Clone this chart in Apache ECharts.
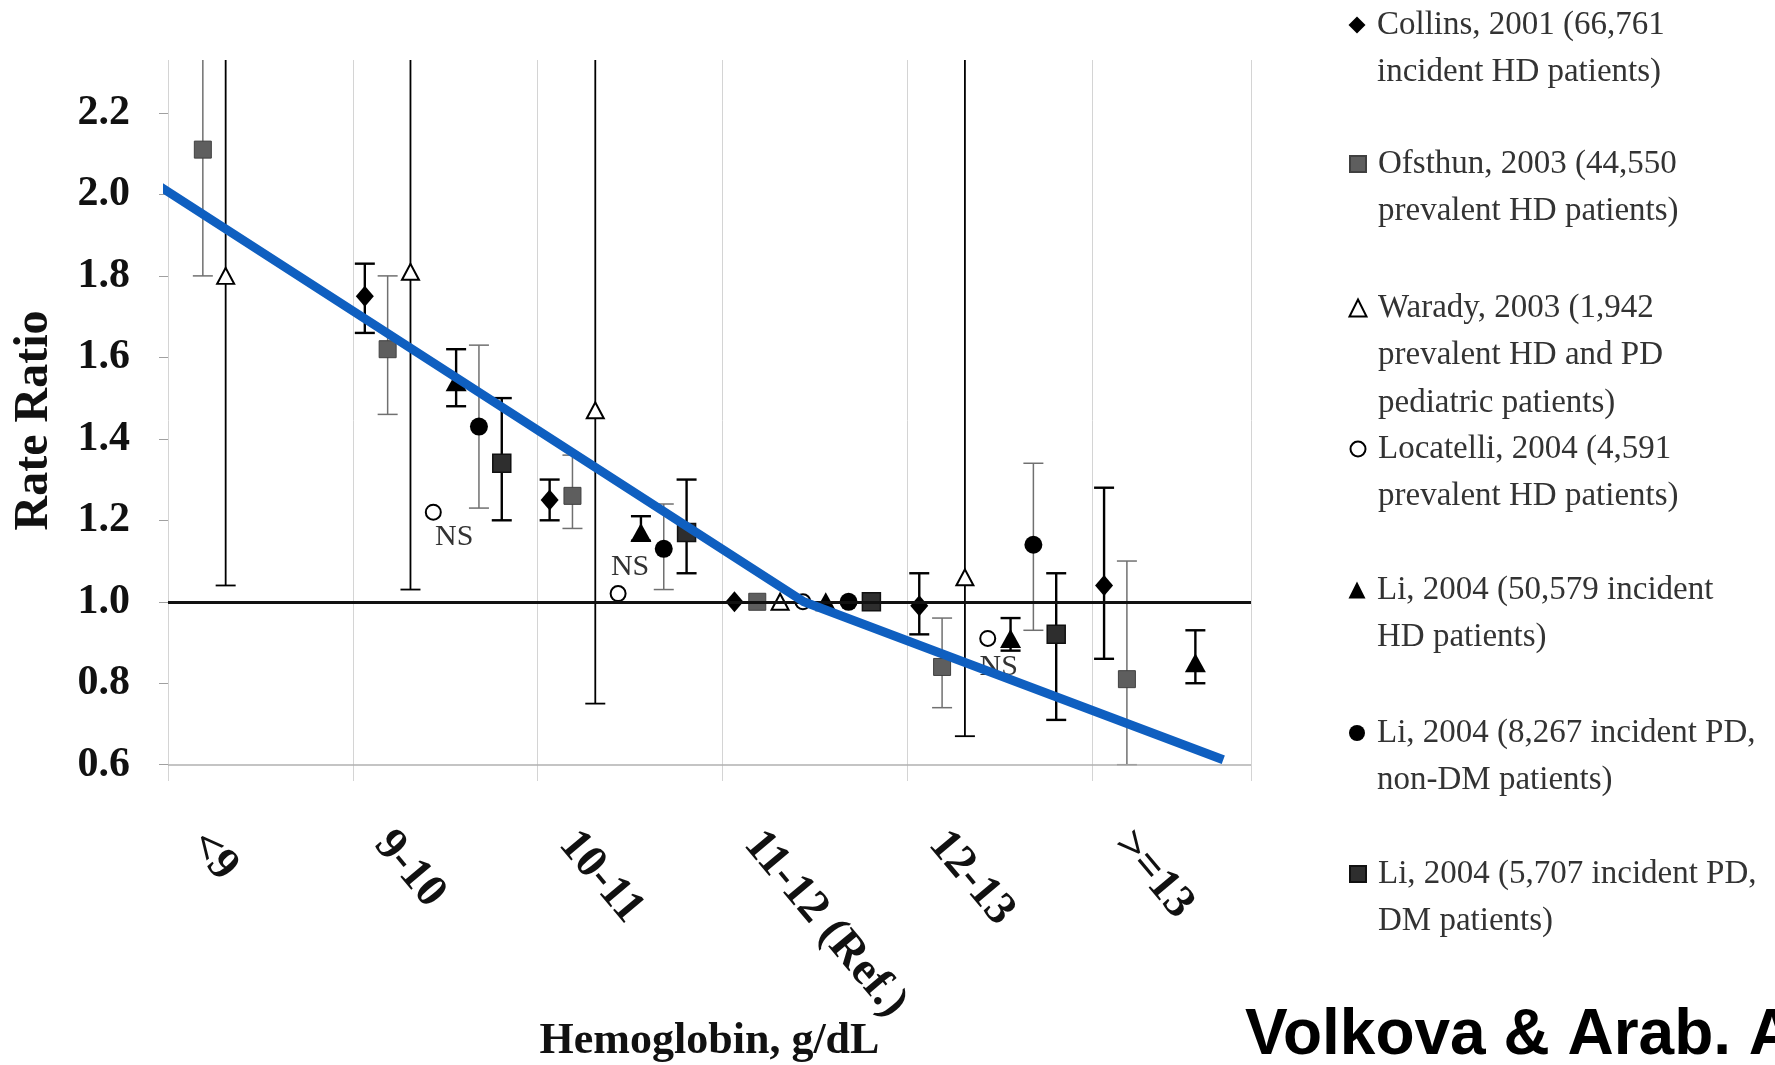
<!DOCTYPE html>
<html>
<head>
<meta charset="utf-8">
<title>Rate ratio by hemoglobin</title>
<script src="https://cdn.jsdelivr.net/npm/echarts@6/dist/echarts.min.js"></script>
<style>
  html, body { margin: 0; padding: 0; background: #ffffff; }
  #chart { width: 1775px; height: 1065px; }
</style>
</head>
<body>
<div id="chart"></div>
<script>
// Hemoglobin bands (g/dL) along the x axis
const hbCategories = ['<9', '9-10', '10-11', '11-12 (Ref.)', '12-13', '>=13'];

// Labelled rate-ratio ticks on the y axis
const yTickValues = [0.6, 0.8, 1.0, 1.2, 1.4, 1.6, 1.8, 2.0, 2.2];

// Studies, in plotting order inside each band
const studyNames = [
  'Collins, 2001 (66,761 incident HD patients)',
  'Ofsthun, 2003 (44,550 prevalent HD patients)',
  'Warady, 2003 (1,942 prevalent HD and PD pediatric patients)',
  'Locatelli, 2004 (4,591 prevalent HD patients)',
  'Li, 2004 (50,579 incident HD patients)',
  'Li, 2004 (8,267 incident PD, non-DM patients)',
  'Li, 2004 (5,707 incident PD, DM patients)'
];
const legendLines = [
  ['Collins, 2001 (66,761', 'incident HD patients)'],
  ['Ofsthun, 2003 (44,550', 'prevalent HD patients)'],
  ['Warady, 2003 (1,942', 'prevalent HD and PD', 'pediatric patients)'],
  ['Locatelli, 2004 (4,591', 'prevalent HD patients)'],
  ['Li, 2004 (50,579 incident', 'HD patients)'],
  ['Li, 2004 (8,267 incident PD,', 'non-DM patients)'],
  ['Li, 2004 (5,707 incident PD,', 'DM patients)']
];

// Rate ratios per band (null = not reported), with interval limits.
// OPEN marks an upper limit that runs past the top of the axis.
const OPEN = 'open';

const collinsRR   = [null, 1.75, 1.25, 1.00, 0.99, 1.04];
const collinsLow  = [null, 1.66, 1.20, null, 0.92, 0.86];
const collinsHigh = [null, 1.83, 1.30, null, 1.07, 1.28];

const ofsthunRR   = [2.11, 1.62, 1.26, 1.00, 0.84, 0.81];
const ofsthunLow  = [1.80, 1.46, 1.18, null, 0.74, 0.60];
const ofsthunHigh = [OPEN, 1.80, 1.36, null, 0.96, 1.10];

const waradyRR    = [1.80, 1.81, 1.47, 1.00, 1.06, null];
const waradyLow   = [1.04, 1.03, 0.75, null, 0.67, null];
const waradyHigh  = [OPEN, OPEN, OPEN, null, OPEN, null];

const locatelliRR   = [null, 1.22, 1.02, 1.00, 0.91, null];
const locatelliNote = [null, 'NS', 'NS', null, 'NS', null];

const liHdRR      = [null, 1.54, 1.17, 1.00, 0.91, 0.85];
const liHdLow     = [null, 1.48, 1.15, null, 0.88, 0.80];
const liHdHigh    = [null, 1.62, 1.21, null, 0.96, 0.93];

const liPdNonDmRR   = [null, 1.43, 1.13, 1.00, 1.14, null];
const liPdNonDmLow  = [null, 1.23, 1.03, null, 0.93, null];
const liPdNonDmHigh = [null, 1.63, 1.24, null, 1.34, null];

const liPdDmRR    = [null, 1.34, 1.17, 1.00, 0.92, null];
const liPdDmLow   = [null, 1.20, 1.07, null, 0.71, null];
const liPdDmHigh  = [null, 1.50, 1.30, null, 1.07, null];

// Blue trend overlay: band position and rate ratio at each vertex
const trendX  = [-0.08, 3.44, 5.71];
const trendRR = [2.03, 1.00, 0.612];

// ---------------------------------------------------------------------------
// Layout
const Y_MIN = 0.56, Y_MAX = 2.33;
const X_MAX = 5.86;
const SLOT0 = 0.065, SLOT_STEP = 0.1235;   // dodge offsets of the studies inside a band
const LABEL_SHIFT = 0.16;                  // band label anchor inside each band
const CAP = 10;                            // half width of interval caps (px)
const SERIF = '"Liberation Serif", "Times New Roman", serif';

const studyRR   = [collinsRR, ofsthunRR, waradyRR, locatelliRR, liHdRR, liPdNonDmRR, liPdDmRR];
const studyLow  = [collinsLow, ofsthunLow, waradyLow, null, liHdLow, liPdNonDmLow, liPdDmLow];
const studyHigh = [collinsHigh, ofsthunHigh, waradyHigh, null, liHdHigh, liPdNonDmHigh, liPdDmHigh];

const markerStyle = [
  { symbol: 'diamond',  size: [18, 21], item: { color: '#000000' } },
  { symbol: 'rect',     size: 17,       item: { color: '#5e5e5e', borderColor: '#404040', borderWidth: 1 } },
  { symbol: 'triangle', size: [17, 16], item: { color: '#ffffff', borderColor: '#000000', borderWidth: 2 } },
  { symbol: 'circle',   size: 15,       item: { color: '#ffffff', borderColor: '#000000', borderWidth: 2 } },
  { symbol: 'triangle', size: [21, 19], item: { color: '#000000' } },
  { symbol: 'circle',   size: 18,       item: { color: '#000000' } },
  { symbol: 'rect',     size: 18,       item: { color: '#2e2e2e', borderColor: '#111111', borderWidth: 1.5 } }
];
const barStyle = [
  { stroke: '#000000', lineWidth: 2.4 },
  { stroke: '#707070', lineWidth: 1.5 },
  { stroke: '#000000', lineWidth: 1.8 },
  null,
  { stroke: '#000000', lineWidth: 2.4 },
  { stroke: '#707070', lineWidth: 1.5 },
  { stroke: '#000000', lineWidth: 2.4 }
];
const nsOffset = { 1: [21, 25], 2: [12, -26], 4: [11, 29] };

const legendIconSize = [17, 16, 17, 15, 17, 16, 16];
const legendFirstLine = [25, 164, 308, 449, 590, 733, 874];
const LEGEND_LH = 47.5;
const LEGEND_ICON_X = 1357;   // icon centre
const LEGEND_TEXT_X = 1377;   // text start

function slotX(band, k) { return band + SLOT0 + k * SLOT_STEP; }

const series = [];

// reference lines at RR = 1.0 and the floor at 0.6
series.push({
  type: 'line', data: [], silent: true, z: 1,
  markLine: {
    symbol: 'none', silent: true, animation: false,
    label: { show: false },
    data: [
      { yAxis: 1.0, lineStyle: { color: '#111111', width: 3.2, type: 'solid' } },
      { yAxis: 0.6, lineStyle: { color: '#b0b0b0', width: 1.5, type: 'solid' } }
    ]
  }
});

studyNames.forEach((name, k) => {
  const rr = studyRR[k];
  // interval bars
  if (studyLow[k]) {
    const data = [];
    studyLow[k].forEach((lo, i) => {
      if (lo == null) return;
      const hi = studyHigh[k][i];
      const open = hi === OPEN;
      data.push([slotX(i, k), lo, open ? Y_MAX : hi, open ? 1 : 0]);
    });
    const st = barStyle[k];
    series.push({
      type: 'custom', silent: true, z: 3,
      encode: { x: 0, y: [1, 2] },
      data,
      renderItem(params, api) {
        const x = api.value(0);
        const pLo = api.coord([x, api.value(1)]);
        const pHi = api.coord([x, api.value(2)]);
        const open = api.value(3) === 1;
        const top = open ? params.coordSys.y : pHi[1];
        const style = { stroke: st.stroke, lineWidth: st.lineWidth };
        const children = [
          { type: 'line', shape: { x1: pLo[0], y1: pLo[1], x2: pLo[0], y2: top }, style },
          { type: 'line', shape: { x1: pLo[0] - CAP, y1: pLo[1], x2: pLo[0] + CAP, y2: pLo[1] }, style }
        ];
        if (!open) {
          children.push({ type: 'line', shape: { x1: pHi[0] - CAP, y1: pHi[1], x2: pHi[0] + CAP, y2: pHi[1] }, style });
        }
        return { type: 'group', children };
      }
    });
  }
  // point estimates
  const pts = [];
  rr.forEach((v, i) => {
    if (v == null) return;
    const item = { value: [slotX(i, k), v] };
    if (k === 3 && locatelliNote[i]) {
      item.label = {
        show: true, formatter: locatelliNote[i], position: 'inside', offset: nsOffset[i],
        fontFamily: SERIF, fontSize: 30, color: '#333333'
      };
    }
    pts.push(item);
  });
  const ms = markerStyle[k];
  series.push({
    type: 'scatter', name, z: 4,
    symbol: ms.symbol, symbolSize: ms.size,
    itemStyle: Object.assign({ opacity: 1 }, ms.item),
    emphasis: { disabled: true },
    data: pts
  });
});

// trend overlay
series.push({
  type: 'line', name: 'trend', z: 6, clip: false, silent: true,
  symbol: 'none',
  lineStyle: { color: '#0f5fc0', width: 9, cap: 'butt', join: 'miter' },
  data: trendX.map((x, i) => [x, trendRR[i]])
});

const legends = studyNames.map((name, i) => {
  const n = legendLines[i].length;
  const w = legendIconSize[i];
  return {
    data: [name],
    orient: 'vertical',
    left: LEGEND_ICON_X - w / 2,
    top: legendFirstLine[i] - (n - 0.5) * LEGEND_LH,
    padding: 0,
    itemWidth: w,
    itemHeight: w,
    symbolKeepAspect: true,
    selectedMode: false,
    formatter: () => '\n'.repeat(n - 1) + legendLines[i].join('\n'),
    textStyle: {
      fontFamily: SERIF, fontSize: 33, lineHeight: LEGEND_LH, color: '#333333',
      padding: [0, 0, 0, LEGEND_TEXT_X - LEGEND_ICON_X - w / 2 - 5]
    }
  };
});

const chart = echarts.init(document.getElementById('chart'), null, { renderer: 'canvas' });
chart.setOption({
  animation: false,
  backgroundColor: '#ffffff',
  title: {
    text: 'Volkova & Arab. A',
    left: 1240, top: 999,
    textStyle: { fontFamily: '"Liberation Sans", Arial, sans-serif', fontWeight: 'bold', fontSize: 64, color: '#000000' }
  },
  legend: legends,
  grid: { left: 168, top: 60, width: 1083, height: 721, outerBoundsMode: 'none', containLabel: false },
  xAxis: [
    {
      type: 'value', min: 0, max: X_MAX, interval: 1,
      axisLine: { show: false }, axisTick: { show: false }, axisLabel: { show: false },
      splitLine: { show: true, lineStyle: { color: '#d4d4d4', width: 1 } },
      name: 'Hemoglobin, g/dL', nameLocation: 'middle', nameGap: 239,
      nameTextStyle: { fontFamily: SERIF, fontWeight: 'bold', fontSize: 44, color: '#111111' }
    },
    {
      type: 'value', min: 0, max: X_MAX, position: 'bottom',
      axisLine: { show: false }, axisTick: { show: false }, splitLine: { show: false },
      axisLabel: {
        show: true,
        customValues: hbCategories.map((_, i) => i + LABEL_SHIFT),
        formatter: (v) => hbCategories[Math.round(v - LABEL_SHIFT)],
        rotate: -50, margin: 56,
        fontFamily: SERIF, fontWeight: 'bold', fontSize: 46, color: '#111111'
      }
    }
  ],
  yAxis: {
    type: 'value', min: Y_MIN, max: Y_MAX,
    axisLine: { show: false },
    splitLine: { show: false },
    axisTick: { show: true, customValues: yTickValues, length: 9, lineStyle: { color: '#a0a0a0', width: 1 } },
    axisLabel: {
      customValues: yTickValues,
      formatter: (v) => v.toFixed(1),
      margin: 38,
      fontFamily: SERIF, fontWeight: 'bold', fontSize: 42, color: '#111111'
    },
    name: 'Rate Ratio', nameLocation: 'middle', nameGap: 109,
    nameTextStyle: { fontFamily: SERIF, fontWeight: 'bold', fontSize: 48, color: '#111111' }
  },
  series
});
</script>
</body>
</html>
